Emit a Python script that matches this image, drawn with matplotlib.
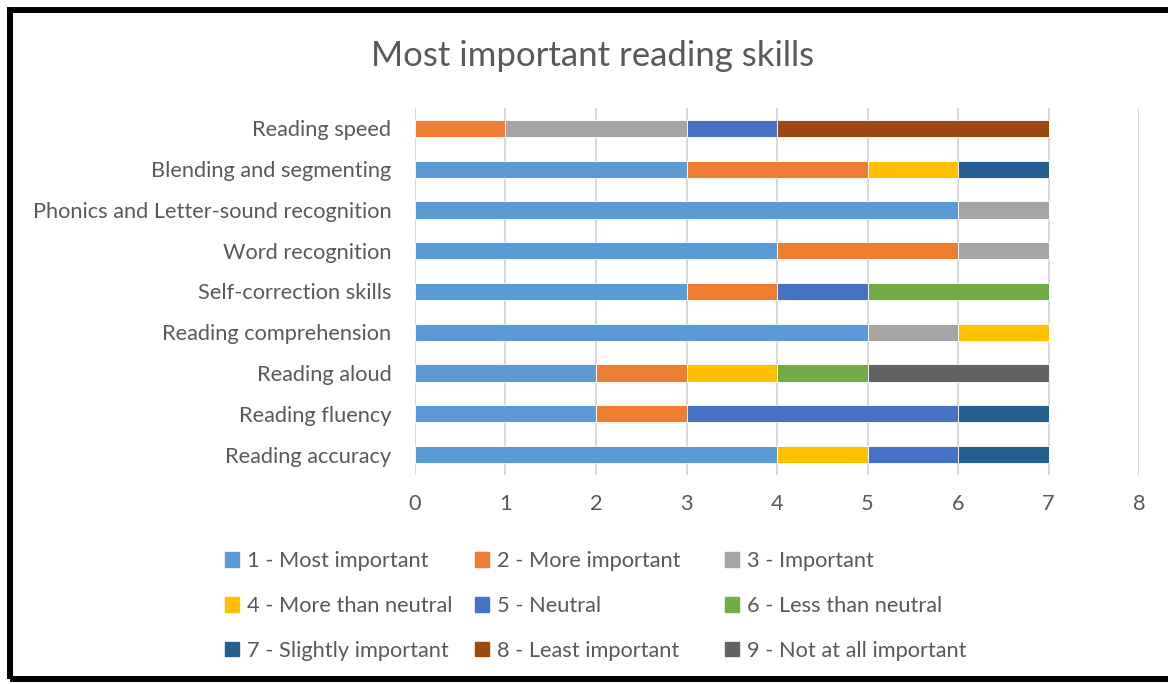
import matplotlib.pyplot as plt
import matplotlib.patches as mpatches
import numpy as np

plt.rcParams['font.family'] = ['Lato', 'DejaVu Sans']

# Дані (знизу вгору, як на осі)
skills = ["Reading accuracy", "Reading fluency", "Reading aloud",
          "Reading comprehension", "Self-correction skills", "Word recognition",
          "Phonics and Letter-sound recognition", "Blending and segmenting",
          "Reading speed"]

labels = ["1 - Most important", "2 - More important", "3 - Important",
          "4 - More than neutral", "5 - Neutral", "6 - Less than neutral",
          "7 - Slightly important", "8 - Least important", "9 - Not at all important"]

colors = ["#5B9BD5", "#ED7D31", "#A5A5A5", "#FFC000", "#4472C4",
          "#70AD47", "#255E91", "#9E480E", "#636363"]

most_important = [4, 2, 2, 5, 3, 4, 6, 3, 0]
more_important = [0, 1, 1, 0, 1, 2, 0, 2, 1]
important = [0, 0, 0, 1, 0, 1, 1, 0, 2]
more_than_neutral = [1, 0, 1, 1, 0, 0, 0, 1, 0]
neutral = [1, 3, 0, 0, 1, 0, 0, 0, 1]
less_than_neutral = [0, 0, 1, 0, 2, 0, 0, 0, 0]
slightly_important = [1, 1, 0, 0, 0, 0, 0, 1, 0]
least_important = [0, 0, 0, 0, 0, 0, 0, 0, 3]
not_at_all = [0, 0, 2, 0, 0, 0, 0, 0, 0]

series = [most_important, more_important, important, more_than_neutral, neutral,
          less_than_neutral, slightly_important, least_important, not_at_all]

text_col = "#595959"
fs = 15.7

fig = plt.figure(figsize=(11.68, 6.84), dpi=100)
ax = fig.add_axes([0.3553, 0.3056, 0.6199, 0.5365])

y = np.arange(len(skills))
left = np.zeros(len(skills))
for vals, c, lab in zip(series, colors, labels):
    vals = np.array(vals, dtype=float)
    ax.barh(y, vals, left=left, height=0.42, color=c, label=lab,
            edgecolor="white", linewidth=0.6, zorder=3)
    left += vals

ax.set_xlim(0, 8)
ax.set_ylim(-0.5, len(skills) - 0.5)
ax.set_xticks(range(0, 9))
ax.set_yticks(y)
ax.set_yticklabels(skills)
ax.tick_params(axis="both", length=0, labelsize=fs, colors=text_col)
ax.tick_params(axis="y", pad=17)
ax.tick_params(axis="x", pad=14)
ax.grid(axis="x", color="#D9D9D9", linewidth=1.5, zorder=0)
for s in ax.spines.values():
    s.set_visible(False)

fig.text(0.507, 0.918, "Most important reading skills", ha="center", va="center",
         fontsize=25, color=text_col)

# легенда: три колонки, заповнення по рядках як в Excel
col_x = [0.1926, 0.4067, 0.6207]
for j in range(3):
    idx = [j, j + 3, j + 6]
    handles = [mpatches.Patch(color=colors[i]) for i in idx]
    leg = fig.legend(handles, [labels[i] for i in idx], loc="center left",
                     bbox_to_anchor=(col_x[j], 0.114), frameon=False, fontsize=fs,
                     handlelength=0.65, handleheight=0.65, handletextpad=0.35,
                     labelspacing=1.13, borderpad=0, borderaxespad=0)
    for t in leg.get_texts():
        t.set_color(text_col)

# чорна рамка
frame = mpatches.Rectangle((0.0086, 0.0073), 1.05, 0.9781, transform=fig.transFigure,
                           fill=False, edgecolor="black", linewidth=4.3)
fig.patches.append(frame)

fig.savefig("out.png", dpi=100)
